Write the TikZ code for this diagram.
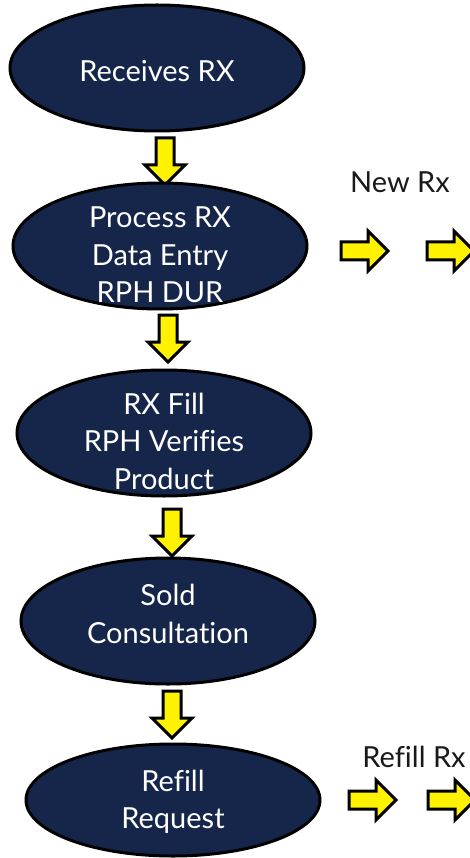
\documentclass[tikz,border=0pt]{standalone}
\usepackage{fontspec}
\setmainfont{Lato}[Ligatures=NoCommon]
\usetikzlibrary{shapes.geometric}
\usetikzlibrary{shapes.arrows}
\definecolor{navy}{RGB}{22,38,74}

\begin{document}
\begin{tikzpicture}[x=1pt,y=-1pt,line width=3pt,font=\fontsize{29}{37.5}\selectfont]
	\tikzstyle{stage}=[ellipse,draw=black,fill=navy,minimum width=294pt,minimum height=126pt,inner sep=0pt]
	\tikzstyle{stage text}=[text=white,align=center]
	\tikzstyle{block arrow}=[single arrow,draw=black,fill=yellow,inner sep=7.5pt,minimum width=37pt,minimum height=47pt,single arrow head extend=11pt]
	\tikzstyle{down arrow}=[block arrow,shape border rotate=270]
	\tikzstyle{tag}=[text=black!90]
	
	\useasboundingbox (0,0) rectangle (469,858);
	
	% Draw the arrows between the steps (first, so the ellipses sit on top)
	\foreach \name / \x / \y in {1/165/157,2/168/334,3/172/528,4/172/710}
	\node[down arrow] (D-\name) at (\x,\y) {};
	
	% Draw the arrows going out to the right
	\foreach \name / \x in {1/360,2/446}
	\node[block arrow] (N-\name) at (\x,251) {};
	\foreach \name / \x in {1/368,2/447}
	\node[block arrow] (R-\name) at (\x,800) {};
	
	% Draw the steps
	\node[stage,label={[stage text,yshift=-3pt]center:Receives RX}] (recv) at (157,68) {};
	\node[stage,label={[stage text,yshift=-9pt]center:{Process RX\\Data Entry\\RPH DUR}}] (proc) at (160,246) {};
	\node[stage,label={[stage text,yshift=-8pt]center:{RX Fill\\RPH Verifies\\Product}}] (fill) at (164,433) {};
	\node[stage,label={[stage text,yshift=7pt]center:{Sold\\Consultation}}] (sold) at (168,621) {};
	\node[stage,minimum height=112pt,label={[stage text,yshift=-2pt]center:{Refill\\Request}}] (refill) at (173,800) {};
	
	% Annotate the outgoing arrows
	\node[tag] (new) at (400,182) {New Rx};
	\node[tag] (again) at (414,757) {Refill Rx};
	
\end{tikzpicture}
\end{document}
